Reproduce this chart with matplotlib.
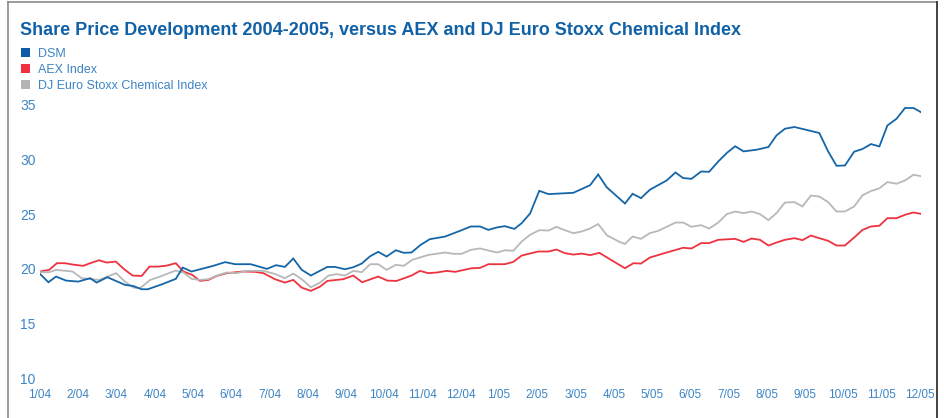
import matplotlib.pyplot as plt
from matplotlib.lines import Line2D
from matplotlib.patches import Rectangle

plt.rcParams["font.family"] = ["Liberation Sans", "DejaVu Sans"]

TITLE = "Share Price Development 2004-2005, versus AEX and DJ Euro Stoxx Chemical Index"
SERIES_NAMES = ["DSM", "AEX Index", "DJ Euro Stoxx Chemical Index"]
MONTH_LABELS = ["1/04", "2/04", "3/04", "4/04", "5/04", "6/04", "7/04", "8/04",
                "9/04", "10/04", "11/04", "12/04", "1/05", "2/05", "3/05", "4/05",
                "5/05", "6/05", "7/05", "8/05", "9/05", "10/05", "11/05", "12/05"]
Y_TICKS = [10, 15, 20, 25, 30, 35]

# x = months since Jan 2004, y = share price / index level
dsm_x = [0.00, 0.22, 0.42, 0.68, 1.00, 1.31, 1.48, 1.76, 2.22, 2.43, 2.66, 2.82,
         3.21, 3.55, 3.73, 3.96, 4.53, 4.84, 5.10, 5.51, 5.93, 6.17, 6.40, 6.62,
         6.84, 7.08, 7.51, 7.71, 7.97, 8.19, 8.41, 8.63, 8.84, 9.06, 9.30, 9.51,
         9.71, 9.95, 10.19, 10.59, 11.02, 11.26, 11.50, 11.72, 11.94, 12.15, 12.40,
         12.59, 12.81, 13.05, 13.29, 13.94, 14.38, 14.59, 14.81, 15.29, 15.49, 15.71,
         15.94, 16.38, 16.61, 16.81, 17.03, 17.28, 17.49, 17.73, 17.95, 18.17, 18.39,
         18.73, 19.04, 19.25, 19.47, 19.72, 20.37, 20.60, 20.82, 21.04, 21.28, 21.50,
         21.72, 21.94, 22.15, 22.39, 22.61, 22.83, 23.02]
dsm_y = [19.52, 18.76, 19.28, 18.91, 18.82, 19.13, 18.73, 19.22, 18.52, 18.42, 18.12, 18.12,
         18.60, 19.07, 20.10, 19.74, 20.26, 20.60, 20.41, 20.41, 19.98, 20.32, 20.16, 20.93,
         19.90, 19.37, 20.16, 20.16, 19.95, 20.13, 20.47, 21.14, 21.54, 21.11, 21.69, 21.45,
         21.48, 22.18, 22.70, 22.94, 23.52, 23.86, 23.86, 23.55, 23.77, 23.89, 23.64,
         24.16, 25.05, 27.12, 26.82, 26.94, 27.64, 28.62, 27.46, 25.96, 26.85, 26.45,
         27.22, 28.07, 28.80, 28.29, 28.22, 28.89, 28.86, 29.81, 30.58, 31.20, 30.73,
         30.88, 31.13, 32.19, 32.80, 32.96, 32.41, 30.73, 29.41, 29.44, 30.70, 30.95,
         31.40, 31.18, 33.10, 33.72, 34.70, 34.70, 34.33]

aex_x = [0.00, 0.24, 0.44, 0.65, 0.91, 1.13, 1.31, 1.54, 1.74, 1.98, 2.20, 2.42,
         2.66, 2.86, 3.09, 3.31, 3.55, 3.75, 3.98, 4.18, 4.40, 4.62, 4.88, 5.31,
         5.62, 5.84, 6.14, 6.40, 6.62, 6.84, 7.08, 7.32, 7.51, 7.93, 8.19, 8.42,
         8.84, 9.08, 9.32, 9.71, 9.93, 10.15, 10.37, 10.63, 10.85, 11.28, 11.50,
         11.72, 12.15, 12.37, 12.59, 13.02, 13.29, 13.50, 13.72, 13.94, 14.16, 14.38,
         14.62, 15.29, 15.51, 15.71, 15.94, 16.38, 16.81, 17.03, 17.28, 17.49, 17.73,
         18.17, 18.39, 18.60, 18.82, 19.04, 19.25, 19.47, 19.72, 19.93, 20.15, 20.37,
         20.60, 20.82, 21.04, 21.28, 21.50, 21.72, 21.94, 22.15, 22.39, 22.61, 22.83,
         23.02]
aex_y = [19.74, 19.89, 20.50, 20.50, 20.35, 20.26, 20.50, 20.77, 20.56, 20.65, 19.95, 19.37,
         19.34, 20.19, 20.19, 20.28, 20.50, 19.74, 19.43, 18.88, 18.97, 19.34, 19.59, 19.74,
         19.71, 19.59, 19.04, 18.73, 18.97, 18.27, 17.97, 18.36, 18.88, 19.04, 19.37, 18.76,
         19.28, 18.91, 18.88, 19.37, 19.80, 19.59, 19.65, 19.80, 19.71, 20.04, 20.07,
         20.41, 20.41, 20.62, 21.20, 21.57, 21.57, 21.75, 21.42, 21.29, 21.38, 21.24,
         21.45, 20.04, 20.50, 20.47, 21.02, 21.48, 21.91, 21.85, 22.34, 22.34, 22.64,
         22.73, 22.45, 22.76, 22.64, 22.12, 22.39, 22.64, 22.79, 22.61, 23.03, 22.79,
         22.55, 22.12, 22.12, 22.85, 23.55, 23.86, 23.93, 24.62, 24.62, 24.93, 25.14,
         25.02]

chem_x = [0.00, 0.24, 0.42, 0.85, 1.09, 1.55, 1.99, 2.22, 2.44, 2.61, 2.88, 3.09,
          3.55, 3.75, 3.96, 4.18, 4.40, 4.62, 4.88, 5.14, 5.40, 5.84, 6.14, 6.40,
          6.62, 6.84, 7.08, 7.32, 7.54, 7.75, 7.97, 8.19, 8.41, 8.63, 8.84, 9.06,
          9.30, 9.51, 9.73, 10.15, 10.59, 10.80, 11.02, 11.26, 11.50, 11.72, 11.95,
          12.15, 12.37, 12.59, 12.81, 13.05, 13.29, 13.50, 13.72, 13.94, 14.16, 14.38,
          14.59, 14.82, 15.16, 15.29, 15.49, 15.71, 15.94, 16.16, 16.61, 16.81, 17.03,
          17.28, 17.49, 17.73, 17.95, 18.17, 18.39, 18.60, 18.82, 19.04, 19.25, 19.47,
          19.72, 19.93, 20.15, 20.37, 20.60, 20.82, 21.04, 21.28, 21.50, 21.72, 21.94,
          22.15, 22.39, 22.61, 22.83, 23.02]
chem_y = [19.68, 19.68, 19.89, 19.74, 19.13, 18.97, 19.59, 18.82, 18.27, 18.21, 18.97, 19.22,
          19.83, 19.65, 19.07, 18.97, 19.04, 19.37, 19.65, 19.59, 19.80, 19.80, 19.52, 19.13,
          19.55, 19.04, 18.30, 18.73, 19.37, 19.50, 19.37, 19.80, 19.68, 20.41, 20.41, 19.89,
          20.35, 20.26, 20.81, 21.26, 21.48, 21.36, 21.36, 21.72, 21.85, 21.66, 21.48,
          21.69, 21.63, 22.48, 23.10, 23.52, 23.49, 23.83, 23.52, 23.25, 23.40, 23.68,
          24.08, 23.05, 22.43, 22.27, 22.94, 22.73, 23.25, 23.46, 24.22, 24.22, 23.83,
          23.98, 23.67, 24.22, 24.99, 25.23, 25.08, 25.23, 24.99, 24.44, 25.08, 26.05,
          26.09, 25.69, 26.69, 26.60, 26.09, 25.23, 25.23, 25.69, 26.72, 27.10, 27.35,
          27.92, 27.77, 28.07, 28.59, 28.47]

LINE_COLORS = ["#1466a8", "#ee3340", "#b8b8b8"]
SWATCH_COLORS = ["#0d5ca6", "#f0303f", "#b4b4b4"]
TITLE_COLOR = "#1061a6"
TEXT_COLOR = "#3d85c4"

W, H = 944, 418
fig = plt.figure(figsize=(W / 100, H / 100), dpi=100)

# plot area: month 0 at x=40px, month 23 at ~920px; 10 at y=378px, 35 at y=105px
ax = fig.add_axes([40 / W, 1 - 378 / H, 880.7 / W, 273.3 / H])
for xs, ys, c in zip([dsm_x, aex_x, chem_x], [dsm_y, aex_y, chem_y], LINE_COLORS):
    ax.plot(xs, ys, color=c, lw=1.3, solid_joinstyle="miter")
# DSM sits on top of the other two
ax.lines[0].set_zorder(3)

ax.set_xlim(0, 23.02)
ax.set_ylim(10, 35)
ax.set_xticks(range(len(MONTH_LABELS)))
ax.set_xticklabels(MONTH_LABELS, fontsize=8.5, color=TEXT_COLOR)
ax.set_yticks(Y_TICKS)
ax.set_yticklabels([str(v) for v in Y_TICKS], fontsize=10, color=TEXT_COLOR)
ax.tick_params(axis="x", length=0, pad=8)
ax.tick_params(axis="y", length=0, pad=3)
for s in ax.spines.values():
    s.set_visible(False)
ax.patch.set_alpha(0)

fig.text(20 / W, 1 - 35 / H, TITLE, fontsize=13, fontweight="bold", color=TITLE_COLOR,
         va="baseline", ha="left")

for i, (name, c) in enumerate(zip(SERIES_NAMES, SWATCH_COLORS)):
    top = 48 + 16 * i
    fig.patches.append(Rectangle((21 / W, 1 - (top + 9) / H), 9 / W, 9 / H,
                                 transform=fig.transFigure, facecolor=c, edgecolor="none"))
    fig.text(38 / W, 1 - (top + 9) / H, name, fontsize=9, color=TEXT_COLOR,
             va="baseline", ha="left")

# frame around the chart
fig.add_artist(Line2D([8 / W, 8 / W], [0, 1 - 2 / H], transform=fig.transFigure,
                      color="#8a8a8a", lw=1.2))
fig.add_artist(Line2D([8 / W, 937 / W], [1 - 2 / H, 1 - 2 / H], transform=fig.transFigure,
                      color="#8a8a8a", lw=1.2))
fig.add_artist(Line2D([937 / W, 937 / W], [0, 1 - 2 / H], transform=fig.transFigure,
                      color="#222222", lw=1.2))

fig.savefig("out.png", dpi=100)
